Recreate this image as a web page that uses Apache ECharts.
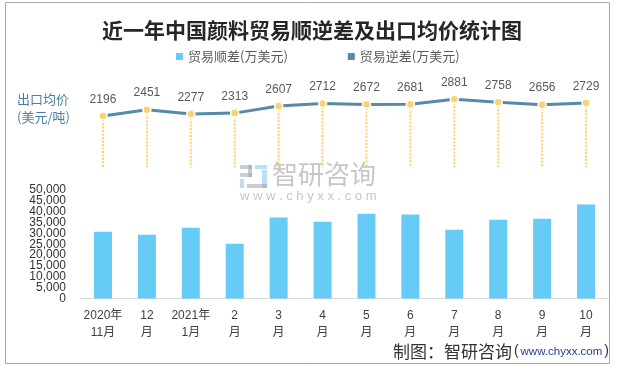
<!DOCTYPE html>
<html>
<head>
<meta charset="utf-8">
<script src="https://cdn.jsdelivr.net/npm/echarts@6/dist/echarts.min.js"></script>
<style>
html,body{margin:0;padding:0;background:#fff;}
#c{width:620px;height:370px;}
</style>
</head>
<body>
<div id="c"></div>
<script>
// ---- data ----
var categories = ['2020年\n11月','12\n月','2021年\n1月','2\n月','3\n月','4\n月','5\n月','6\n月','7\n月','8\n月','9\n月','10\n月'];
var surplus = [30800, 29400, 32600, 25200, 37300, 35400, 39100, 38700, 31700, 36300, 36800, 43300];
var deficit = [];
var exportPrice = [2196, 2451, 2277, 2313, 2607, 2712, 2672, 2681, 2881, 2758, 2656, 2729];
var surplusName = '贸易顺差(万美元)';
var deficitName = '贸易逆差(万美元)';
var titleText = '近一年中国颜料贸易顺逆差及出口均价统计图';
var priceAxisName = '出口均价\n(美元/吨)';
var sourceText = '制图：智研咨询';
var sourceUrl = 'www.chyxx.com';
var yMax = 50000, yStep = 5000;

var FONT = "'Liberation Sans','Noto Sans CJK SC',sans-serif";
var chart = echarts.init(document.getElementById('c'));

var dropData = exportPrice.map(function(v,i){return [i,v];});

// bar grid geometry
var gTop = 190, gH = 108.5, stepPx = gH * yStep / yMax;

var yLabel = {color: '#333', fontSize: 12, margin: 15, fontFamily: FONT,
  showMinLabel: true, showMaxLabel: true,
  formatter: function(v){return v.toLocaleString('en-US');}};

chart.setOption({
  animation: false,
  backgroundColor: '#fff',
  textStyle: {fontFamily: FONT},
  title: {
    text: titleText,
    left: 307, top: 15, textAlign: 'center',
    textStyle: {fontFamily: "'Noto Sans CJK SC',sans-serif", fontSize: 21, fontWeight: 'bold', color: '#262626'}
  },
  legend: {
    data: [{name: surplusName, icon: 'rect'}, {name: deficitName, icon: 'rect'}],
    left: 171, top: 45,
    itemWidth: 7, itemHeight: 7, itemGap: 60,
    textStyle: {fontFamily: "'Noto Sans CJK SC',sans-serif", fontSize: 13, color: '#595959'}
  },
  grid: [
    {left: 81, width: 527, top: gTop, height: gH},
    {left: 81, width: 527, top: 96.4, height: 73},
    {left: 81, width: 527, top: gTop + stepPx, height: gH - 2 * stepPx}
  ],
  xAxis: [
    {type: 'category', gridIndex: 0, data: categories,
     axisLine: {lineStyle: {color: '#D9D9D9', width: 1}},
     axisTick: {show: false},
     axisLabel: {color: '#404040', fontSize: 12, lineHeight: 17, margin: 9, interval: 0, fontFamily: FONT}},
    {type: 'category', gridIndex: 1, data: categories, show: false},
    {type: 'category', gridIndex: 2, data: categories, show: false}
  ],
  yAxis: [
    {type: 'value', gridIndex: 0, min: 0, max: yMax, interval: yStep * 2,
     splitLine: {show: false}, axisLine: {show: false}, axisTick: {show: false},
     axisLabel: yLabel},
    {type: 'value', gridIndex: 1, min: 0, max: 3000, show: false},
    {type: 'value', gridIndex: 2, min: yStep, max: yMax - yStep, interval: yStep * 2,
     splitLine: {show: false}, axisLine: {show: false}, axisTick: {show: false},
     axisLabel: yLabel}
  ],
  series: [
    {name: surplusName, type: 'bar', xAxisIndex: 0, yAxisIndex: 0, data: surplus,
     barWidth: 18, stack: 'b', itemStyle: {color: '#66CCF5'}},
    {name: deficitName, type: 'bar', xAxisIndex: 0, yAxisIndex: 0, data: deficit,
     barWidth: 18, stack: 'b', itemStyle: {color: '#558BA6'}},
    {name: 'drop', type: 'custom', xAxisIndex: 1, yAxisIndex: 1, data: dropData, z: 1, silent: true,
     renderItem: function(params, api){
       var p1 = api.coord([api.value(0), api.value(1)]);
       var p0 = api.coord([api.value(0), 0]);
       return {type: 'line', shape: {x1: p1[0], y1: p1[1], x2: p0[0], y2: p0[1] - 2},
               style: {stroke: '#FAD26E', lineWidth: 2, lineDash: [2, 1.5]}};
     }},
    {name: 'price', type: 'line', xAxisIndex: 1, yAxisIndex: 1, data: exportPrice, z: 3,
     lineStyle: {color: '#558BA6', width: 3},
     symbol: 'circle', symbolSize: 8,
     itemStyle: {color: '#FAD26E', borderColor: '#fff', borderWidth: 1.5},
     label: {show: true, position: 'top', distance: 6, color: '#595959', fontSize: 12, fontFamily: FONT}}
  ],
  graphic: [
    {type: 'rect', shape: {x: 5.5, y: 2.5, width: 604, height: 361}, style: {fill: 'none', stroke: '#A6A6A6', lineWidth: 1}, silent: true},
    {type: 'text', left: 17, top: 90, style: {text: priceAxisName, fontSize: 13, lineHeight: 18, fill: '#4A7EA0', fontFamily: "'Noto Sans CJK SC',sans-serif"}},
    // watermark logo
    {type: 'group', left: 240, top: 165, silent: true, children: [
      {type: 'rect', shape: {x: 0, y: 0, width: 12, height: 4}, style: {fill: 'rgba(150,165,190,0.55)'}},
      {type: 'rect', shape: {x: 8, y: 0, width: 4, height: 12}, style: {fill: 'rgba(150,165,190,0.55)'}},
      {type: 'rect', shape: {x: 0, y: 8, width: 12, height: 4}, style: {fill: 'rgba(150,165,190,0.55)'}},
      {type: 'rect', shape: {x: 0, y: 14, width: 4, height: 9}, style: {fill: 'rgba(120,190,230,0.5)'}},
      {type: 'rect', shape: {x: 15, y: 0, width: 12, height: 4}, style: {fill: 'rgba(120,190,230,0.5)'}},
      {type: 'rect', shape: {x: 22, y: 5, width: 5, height: 18}, style: {fill: 'rgba(120,190,230,0.5)'}},
      {type: 'rect', shape: {x: 7, y: 19, width: 20, height: 4}, style: {fill: 'rgba(150,165,190,0.55)'}}
    ]},
    {type: 'text', left: 272, top: 161, silent: true, style: {text: '智研咨询', fontSize: 26, fill: 'rgba(160,160,160,0.6)', fontFamily: "'Noto Sans CJK SC',sans-serif"}},
    {type: 'text', left: 240, top: 190, silent: true, style: {text: 'w w w . c h y x x . c o m', fontSize: 13, fill: 'rgba(160,160,160,0.6)', fontFamily: "'Liberation Sans',sans-serif"}},
    {type: 'text', right: 11, top: 343, style: {
      text: '{a|' + sourceText + '}{p|(}{b|' + sourceUrl + '}{p|)}',
      rich: {
        a: {fontSize: 17, fill: '#333', color: '#333', fontFamily: "'Noto Sans CJK SC',sans-serif"},
        p: {fontSize: 14, fill: '#333', color: '#333', fontFamily: "'Liberation Sans',sans-serif", padding: [0, 2, 0, 2]},
        b: {fontSize: 11.5, fill: '#1F3F8F', color: '#1F3F8F', fontFamily: "'Liberation Sans',sans-serif"}
      }
    }}
  ]
});
</script>
</body>
</html>
